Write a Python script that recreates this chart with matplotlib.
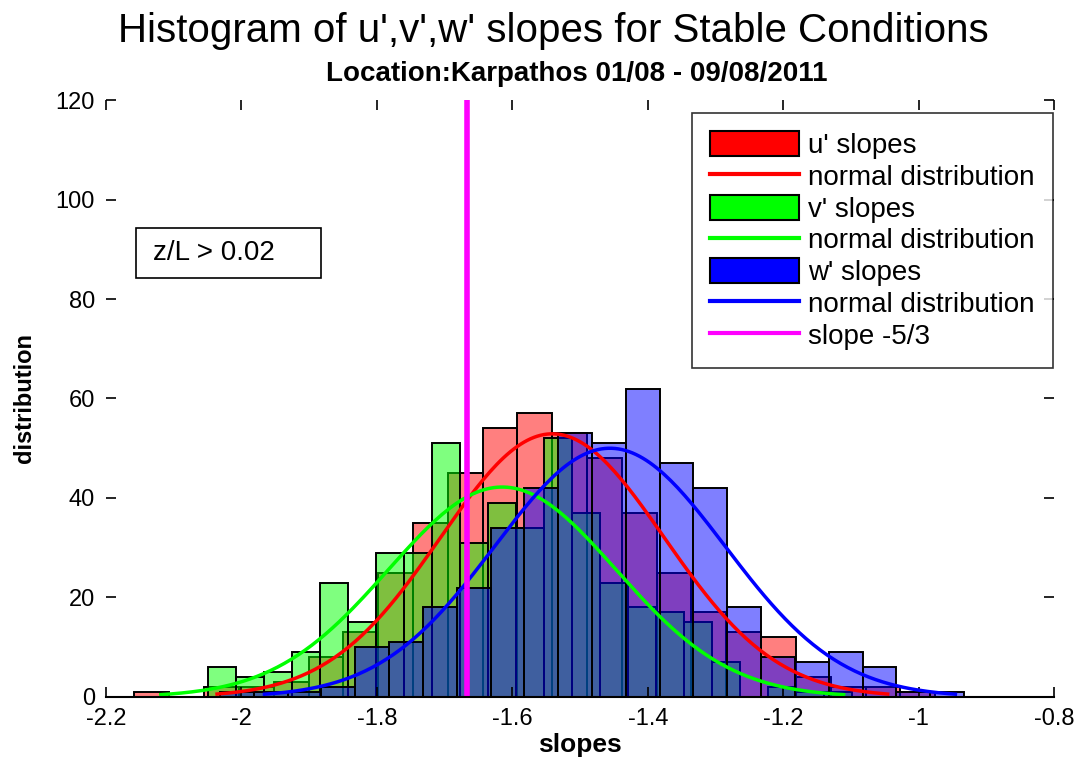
import numpy as np
import matplotlib
matplotlib.use("Agg")
import matplotlib.pyplot as plt
from matplotlib.patches import Patch, Rectangle
from matplotlib.lines import Line2D

plt.rcParams['font.family'] = ['Liberation Sans', 'DejaVu Sans']

# histogram counts per bin (first bin edge, bin width, counts)
u_start, u_width = -2.158, 0.0514
u_counts = [1, 0, 2, 2, 3, 8, 13, 25, 35, 45, 54, 57, 53, 48, 37, 25, 17, 13, 12, 4, 2, 2, 1]

v_start, v_width = -2.049, 0.04133
v_counts = [6, 4, 5, 9, 23, 15, 29, 29, 51, 31, 39, 34, 52, 37, 23, 18, 17, 15, 7, 0, 2, 1, 1]

w_start, w_width = -2.0317, 0.04993
w_counts = [1, 1, 1, 2, 10, 11, 18, 22, 34, 42, 53, 51, 62, 47, 42, 18, 8, 7, 9, 6, 1, 1]

# fitted normal curves: mean, std, peak height
u_fit = (-1.541, 0.165, 52.9)
v_fit = (-1.615, 0.168, 42.2)
w_fit = (-1.456, 0.170, 50.0)

slope_ref = -5.0 / 3.0
condition = 'z/L > 0.02'


def normal_curve(mu, sigma, peak):
    xx = np.linspace(mu - 3 * sigma, mu + 3 * sigma, 200)
    return xx, peak * np.exp(-0.5 * ((xx - mu) / sigma) ** 2)


fig = plt.figure(figsize=(10.78, 7.67), dpi=100)
ax = fig.add_axes([0.0983, 0.0913, 0.8797, 0.7783])

for start, width, counts, col in [(u_start, u_width, u_counts, 'red'),
                                  (v_start, v_width, v_counts, 'lime'),
                                  (w_start, w_width, w_counts, 'blue')]:
    lefts = start + width * np.arange(len(counts))
    ax.bar(lefts, counts, width=width, align='edge', color=col, alpha=0.5,
           edgecolor='none')
    ax.bar(lefts, counts, width=width, align='edge', facecolor='none',
           edgecolor='black', linewidth=1.4)

for fit, col in [(u_fit, 'red'), (v_fit, 'lime'), (w_fit, 'blue')]:
    xx, yy = normal_curve(*fit)
    ax.plot(xx, yy, color=col, linewidth=2.5)

ax.plot([slope_ref, slope_ref], [0, 120], color='magenta', linewidth=4)

ax.set_xlim(-2.2, -0.8)
ax.set_ylim(0, 120)
ax.set_xticks(np.arange(-2.2, -0.79, 0.2))
ax.set_xticklabels(['-2.2', '-2', '-1.8', '-1.6', '-1.4', '-1.2', '-1', '-0.8'])
ax.set_yticks(np.arange(0, 121, 20))
ax.tick_params(direction='in', length=7, width=1.2, labelsize=17,
               top=True, right=True, pad=8)
for side in ['left', 'top', 'right']:
    ax.spines[side].set_visible(False)
ax.spines['bottom'].set_linewidth(1.5)

ax.set_xlabel('slopes', fontsize=19, fontweight='bold', labelpad=2)
ax.set_ylabel('distribution', fontsize=17, fontweight='bold', labelpad=14)

fig.text(0.513, 0.960, "Histogram of u',v',w' slopes for Stable Conditions",
         ha='center', va='center', fontsize=29)
fig.text(0.535, 0.904, 'Location:Karpathos 01/08 - 09/08/2011',
         ha='center', va='center', fontsize=20, fontweight='bold')

# condition label in its own frame
ax.add_patch(Rectangle((-2.156, 84.2), 0.274, 10.1, facecolor='white',
                       edgecolor='black', linewidth=1.2, zorder=5))
ax.text(-2.130, 89.2, condition, fontsize=20, va='center', ha='left', zorder=6)

handles = [Patch(facecolor='red', edgecolor='black', linewidth=1.5),
           Line2D([], [], color='red', linewidth=3),
           Patch(facecolor='lime', edgecolor='black', linewidth=1.5),
           Line2D([], [], color='lime', linewidth=3),
           Patch(facecolor='blue', edgecolor='black', linewidth=1.5),
           Line2D([], [], color='blue', linewidth=3),
           Line2D([], [], color='magenta', linewidth=3)]
labels = ["u' slopes", 'normal distribution', "v' slopes", 'normal distribution',
          "w' slopes", 'normal distribution', 'slope -5/3']
leg = ax.legend(handles, labels, loc='upper right', fontsize=20,
                bbox_to_anchor=(1053 / 1078, 1 - 113 / 767),
                bbox_transform=fig.transFigure,
                frameon=True, fancybox=False, edgecolor='black',
                handlelength=3.2, handleheight=1.0, handletextpad=0.35,
                labelspacing=0.14, borderaxespad=0, borderpad=0.65)
leg.get_frame().set_linewidth(1.2)

fig.savefig('out.png', dpi=100)
